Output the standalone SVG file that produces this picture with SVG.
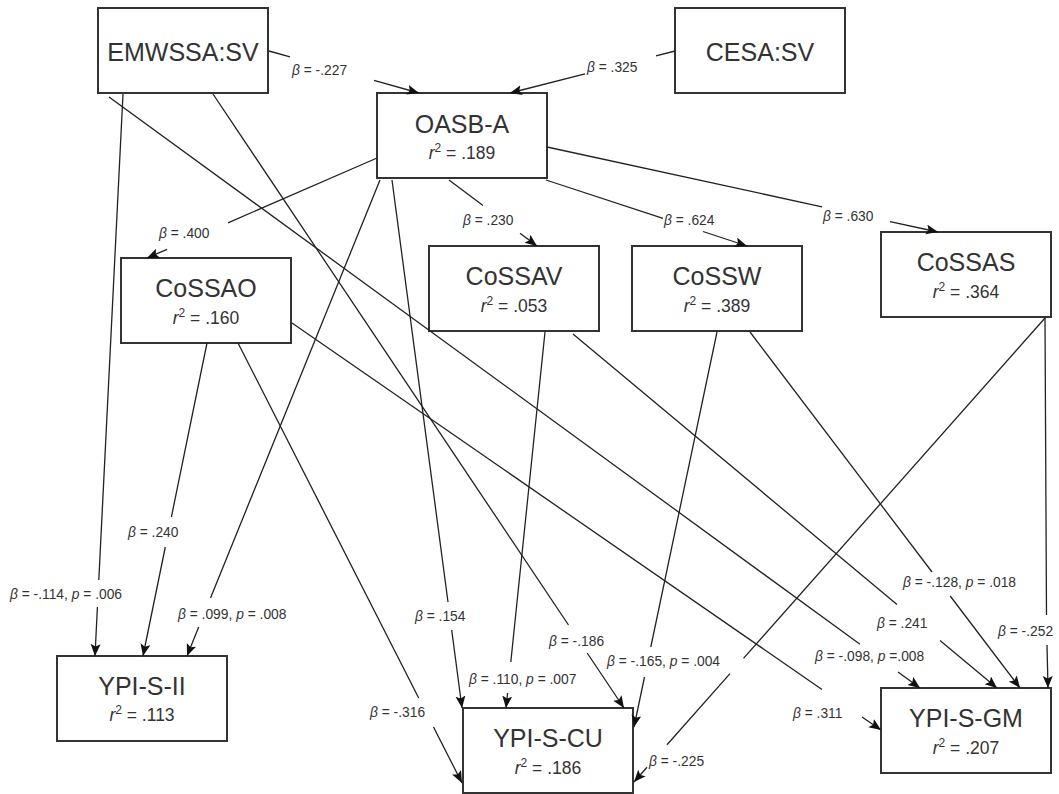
<svg xmlns="http://www.w3.org/2000/svg" width="1059" height="794" viewBox="0 0 1059 794">
<defs>
<style>
.box{fill:#fff;stroke:#333;stroke-width:2}
.name{font-family:"Liberation Sans",Arial,sans-serif;font-size:25px;fill:#333;text-anchor:middle}
.r2{font-family:"Liberation Sans",Arial,sans-serif;font-size:17.5px;fill:#333;text-anchor:middle}
.e{fill:none;stroke:#222;stroke-width:1.3;marker-end:url(#arr)}
.lb{font-family:"Liberation Sans",Arial,sans-serif;font-size:13.8px;fill:#333}
.i{font-style:italic}
</style>
<marker id="arr" markerUnits="userSpaceOnUse" markerWidth="13" markerHeight="11" refX="12" refY="5" orient="auto" viewBox="0 0 13 11"><path d="M0,0 L12,5 L0,10 L2.5,5 Z" fill="#111"/></marker>
</defs>
<rect width="1059" height="794" fill="#fff"/>
<g id="EMWSSA_SV"><rect class="box" x="98" y="8" width="170" height="85"/><text class="name" x="183" y="61">EMWSSA:SV</text></g>
<g id="CESA_SV"><rect class="box" x="675" y="8" width="170" height="85"/><text class="name" x="760" y="61">CESA:SV</text></g>
<g id="OASB_A"><rect class="box" x="377" y="93" width="170" height="85"/><text class="name" x="462" y="132.5">OASB-A</text><text class="r2" x="462" y="159"><tspan class="i">r</tspan><tspan dy="-7" font-size="12">2</tspan><tspan dy="7"> = .189</tspan></text></g>
<g id="CoSSAO"><rect class="box" x="121" y="258" width="170" height="85"/><text class="name" x="206" y="297">CoSSAO</text><text class="r2" x="206" y="323.5"><tspan class="i">r</tspan><tspan dy="-7" font-size="12">2</tspan><tspan dy="7"> = .160</tspan></text></g>
<g id="CoSSAV"><rect class="box" x="429" y="246" width="170" height="85"/><text class="name" x="514" y="285">CoSSAV</text><text class="r2" x="514" y="311.5"><tspan class="i">r</tspan><tspan dy="-7" font-size="12">2</tspan><tspan dy="7"> = .053</tspan></text></g>
<g id="CoSSW"><rect class="box" x="632" y="246" width="170" height="85"/><text class="name" x="717" y="285">CoSSW</text><text class="r2" x="717" y="311.5"><tspan class="i">r</tspan><tspan dy="-7" font-size="12">2</tspan><tspan dy="7"> = .389</tspan></text></g>
<g id="CoSSAS"><rect class="box" x="881" y="232" width="170" height="85"/><text class="name" x="966" y="271">CoSSAS</text><text class="r2" x="966" y="297.5"><tspan class="i">r</tspan><tspan dy="-7" font-size="12">2</tspan><tspan dy="7"> = .364</tspan></text></g>
<g id="YPI_S_II"><rect class="box" x="57" y="656" width="170" height="85"/><text class="name" x="142" y="694.5">YPI-S-II</text><text class="r2" x="142" y="721"><tspan class="i">r</tspan><tspan dy="-7" font-size="12">2</tspan><tspan dy="7"> = .113</tspan></text></g>
<g id="YPI_S_CU"><rect class="box" x="463" y="708" width="170" height="85"/><text class="name" x="548" y="747">YPI-S-CU</text><text class="r2" x="548" y="773.5"><tspan class="i">r</tspan><tspan dy="-7" font-size="12">2</tspan><tspan dy="7"> = .186</tspan></text></g>
<g id="YPI_S_GM"><rect class="box" x="881" y="688" width="170" height="85"/><text class="name" x="966" y="727">YPI-S-GM</text><text class="r2" x="966" y="753.5"><tspan class="i">r</tspan><tspan dy="-7" font-size="12">2</tspan><tspan dy="7"> = .207</tspan></text></g>
<g id="connectors">
<path class="e" d="M269,51 L290,56.9 M374,80.4 L419,93"/>
<path class="e" d="M675,51 L656,55.8 M585,73.9 L510,93"/>
<path class="e" d="M377,158 L228,222.8 M167,249.3 L147,258"/>
<path class="e" d="M449,180 L483,205.5 M520,233.3 L537,246"/>
<path class="e" d="M546,180 L663,218.4 M703,231.5 L747,246"/>
<path class="e" d="M547,147 L822,206.8 M890,221.6 L938,232"/>
<path class="e" d="M123,94 L98.8,580 M97.4,607 L95,656"/>
<path class="e" d="M213,94 L568.5,625 M587.2,653 L624,708"/>
<path class="e" d="M109,97 L860,644.3 M898,672 L920,688"/>
<path class="e" d="M380,180 L210.5,598 M198.7,627 L187,656"/>
<path class="e" d="M392,180 L448,602 M451.7,630 L462,708"/>
<path class="e" d="M207,343 L171.4,517 M165.3,547 L143,656"/>
<path class="e" d="M238,343 L418.7,698 M433.5,727 L462,783"/>
<path class="e" d="M292,323 L822,689.5 M862,717 L881,730"/>
<path class="e" d="M545,332 L510.8,662 M507.6,693 L506,708"/>
<path class="e" d="M573,334 L897,604.5 M940,640.4 L997,688"/>
<path class="e" d="M717,332 L650.8,647 M644.5,677 L634,727"/>
<path class="e" d="M750,332 L932,572 M950.2,596 L1020,688"/>
<path class="e" d="M1045,318 L743.5,658.4 M730,673.6 L667,744.7 M647,767.3 L634,782"/>
<path class="e" d="M1045,318 L1046.5,615 M1047,645 L1048,688"/>
<g id="labels">
<text class="lb" x="292" y="75"><tspan class="i">β</tspan> = -.227</text>
<text class="lb" x="587" y="71.5"><tspan class="i">β</tspan> = .325</text>
<text class="lb" x="159" y="237.5"><tspan class="i">β</tspan> = .400</text>
<text class="lb" x="463" y="225"><tspan class="i">β</tspan> = .230</text>
<text class="lb" x="664" y="225"><tspan class="i">β</tspan> = .624</text>
<text class="lb" x="823" y="220.5"><tspan class="i">β</tspan> = .630</text>
<text class="lb" x="10" y="599"><tspan class="i">β</tspan> = -.114, <tspan class="i">p</tspan> = .006</text>
<text class="lb" x="128" y="536.5"><tspan class="i">β</tspan> = .240</text>
<text class="lb" x="178" y="619"><tspan class="i">β</tspan> = .099, <tspan class="i">p</tspan> = .008</text>
<text class="lb" x="415" y="621"><tspan class="i">β</tspan> = .154</text>
<text class="lb" x="370" y="717"><tspan class="i">β</tspan> = -.316</text>
<text class="lb" x="469" y="684"><tspan class="i">β</tspan> = .110, <tspan class="i">p</tspan> = .007</text>
<text class="lb" x="549" y="646"><tspan class="i">β</tspan> = -.186</text>
<text class="lb" x="607" y="666"><tspan class="i">β</tspan> = -.165, <tspan class="i">p</tspan> = .004</text>
<text class="lb" x="649" y="766"><tspan class="i">β</tspan> = -.225</text>
<text class="lb" x="793" y="717.5"><tspan class="i">β</tspan> = .311</text>
<text class="lb" x="815" y="661"><tspan class="i">β</tspan> = -.098, <tspan class="i">p</tspan> =.008</text>
<text class="lb" x="877" y="627.5"><tspan class="i">β</tspan> = .241</text>
<text class="lb" x="903" y="586.5"><tspan class="i">β</tspan> = -.128, <tspan class="i">p</tspan> = .018</text>
<text class="lb" x="998" y="635.5"><tspan class="i">β</tspan> = -.252</text>
</g>
</g>
</svg>
